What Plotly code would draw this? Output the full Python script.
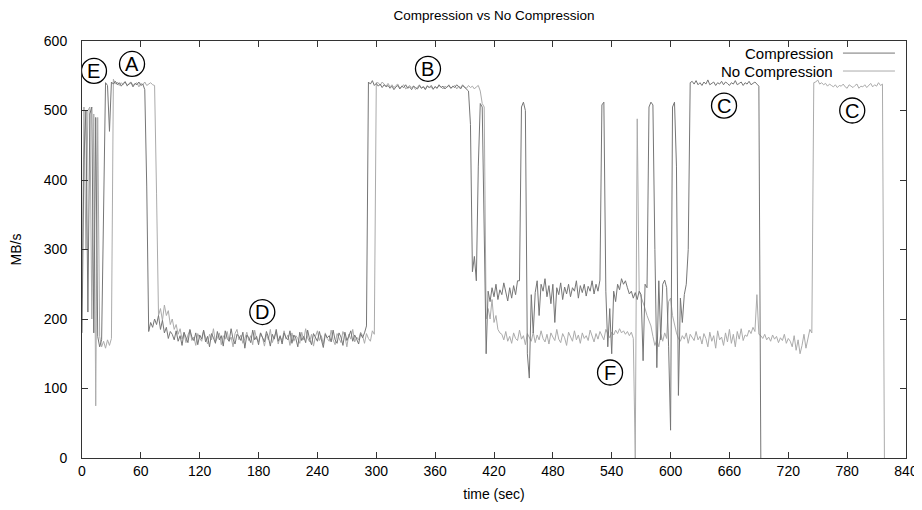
import plotly.graph_objects as go

# ---------------- data (MB/s, one sample every 2 s starting at t = 0) ----------------
SAMPLE_STEP = 2

# Compression
comp_a = [180, 430, 500, 210, 495, 505, 180, 490, 175, 160, 170, 350, 540, 536, 470]          # t 0-28
comp_b = [541, 538, 542, 537, 540, 535, 539, 541, 536, 538, 540, 534, 539, 537, 541, 536, 538]  # t 30-62
comp_c = [530, 390, 182, 195, 188, 200, 192, 205, 185, 198, 180, 188, 172, 182]                # t 64-90
comp_d = [178, 170, 183, 168, 176, 162, 181, 172, 166, 185,
          174, 169, 180, 163, 177, 171, 184, 167, 175, 160,
          179, 173, 165, 182, 170, 176, 161, 183, 172, 168,
          186, 171, 164, 178, 175, 169, 181, 158, 177, 173,
          166, 184, 170, 175, 163, 180, 172, 167, 182, 174,
          161, 178, 171, 185, 168, 176, 164, 180, 173, 170,
          183, 165, 177, 172, 160, 181, 169, 175, 166, 184,
          171, 163, 179, 174, 168, 182, 170, 159, 178, 173,
          176, 167, 184, 170, 165, 180, 174, 162, 181, 169,
          175, 183, 168, 177, 171, 164, 179, 173, 180]                                          # t 92-288
comp_e = [190]                                                                                  # t 290
comp_f = [541, 538, 543, 536, 539, 535, 538, 533, 537, 534,
          536, 532, 535, 530, 534, 536, 531, 535, 533, 537,
          532, 534, 530, 535, 533, 531, 536, 532, 534, 530,
          535, 533, 536, 531, 534, 532, 537, 533, 535, 531,
          534, 536, 532, 535, 533, 537, 534, 531, 536, 533,
          530]                                                                                  # t 292-392
comp_g = [528, 480, 268, 290, 255, 420, 510, 505, 300, 150]                                     # t 394-412
comp_h = [240, 225, 245, 232, 250, 228, 242, 235, 252, 238, 226, 245, 230, 248, 235, 255]      # t 414-444
comp_i = [255, 505, 512, 500, 150, 115, 235, 180]                                               # t 446-460
comp_j = [238, 255, 205, 250, 240, 258, 232, 248, 222, 250,
          195, 245, 235, 252, 228, 246, 236, 250, 232, 245,
          240, 255, 230, 248, 238, 250, 233, 247, 240, 255,
          236, 250, 240, 256]                                                                   # t 462-528
comp_k = [508, 512, 240, 160, 215, 150]                                                         # t 530-540
comp_l = [240, 225, 250, 242, 258, 250, 255, 245, 236, 240, 230, 238, 228, 240, 235]           # t 542-570
comp_m = [140, 250, 245, 505, 512, 508, 300, 130, 255, 170, 250, 256, 245, 160, 40,
          505, 512, 420, 90, 230, 195, 235, 250, 300]                                           # t 572-618
comp_n = [540, 542, 538, 543, 537, 540, 536, 541, 538, 544, 537,
          539, 541, 536, 540, 538, 542, 537, 541, 539, 536,
          540, 538, 543, 537, 539, 541, 536, 540, 538, 542,
          537, 539, 541, 538]                                                                   # t 620-688
comp_o = [535, 0]                                                                               # t 690-692

# No Compression
nocomp_a = [230, 505, 300, 500, 505, 200, 495, 75, 490, 175, 160, 168, 158, 170, 162, 172]     # t 0-30
nocomp_b = [545, 538, 541, 536, 540, 537, 542, 535, 539, 541, 536,
            538, 540, 534, 539, 537, 541, 536, 538, 540, 537]                                   # t 32-72
nocomp_c = [536, 380, 205, 215, 198, 220, 205, 212, 192, 200, 185, 192, 178, 186]              # t 74-100
nocomp_d = [171, 180, 166, 177, 184, 169, 174, 162, 179, 172,
            168, 183, 175, 164, 178, 170, 186, 167, 173, 180,
            163, 176, 171, 182, 168, 174, 160, 179, 185, 170,
            177, 165, 172, 181, 169, 176, 163, 184, 171, 167,
            180, 173, 161, 178, 170, 185, 166, 175, 182, 164,
            174, 169, 183, 171, 177, 162, 180, 168, 176, 172,
            165, 181, 170, 186, 173, 167, 178, 161, 175, 183,
            169, 176, 164, 180, 172, 168, 184, 170, 163, 179,
            173, 166, 182, 175, 160, 178, 171, 185, 167, 174,
            170, 181, 176, 165, 179, 172, 168, 183, 178]                                        # t 102-298
nocomp_e = [540, 540, 536, 541, 538, 535, 539, 534, 537, 533, 536,
            538, 532, 535, 537, 531, 534, 536, 533, 535, 530,
            534, 537, 532, 535, 531, 536, 533, 534, 530, 535,
            532, 536, 534, 531, 535, 533, 537, 532, 534, 536,
            531, 535, 533, 537, 534, 532, 536, 533, 535, 531,
            534, 536]                                                                           # t 300-404
nocomp_f = [528, 510, 505, 200, 215, 200, 228, 195, 205, 185, 180]                              # t 406-426
nocomp_g = [178, 170, 182, 168, 175, 165, 180, 172, 169, 184,
            171, 176, 163, 179, 173, 168, 181, 166, 177, 170,
            183, 172, 167, 178, 164, 180, 174, 169, 185, 171,
            166, 179, 173, 162, 181, 175, 168, 183, 170, 177,
            165, 180, 172, 176, 169, 184, 174, 167, 179, 171,
            182, 176, 170, 185, 178, 173, 181, 177, 184, 179,
            186, 180, 183, 178, 182, 176, 181]                                                  # t 428-560
nocomp_h = [172, 0, 488, 240, 232, 225, 215, 205, 198, 190, 175, 162, 170, 160, 178, 168,
            180, 172, 225, 230, 205, 190, 180, 172]                                             # t 562-608
nocomp_i = [168, 176, 171, 180, 165, 178, 173, 169, 182, 170,
            175, 164, 179, 172, 160, 181, 168, 176, 158, 183,
            170, 174, 162, 180, 167, 185, 165, 178, 160, 182,
            171, 186, 169, 177, 175, 184, 179, 188]                                             # t 610-684
nocomp_j = [182, 235, 178]                                                                      # t 686-690
nocomp_k = [176, 172, 178, 170, 174, 168, 177, 171, 175, 166,
            173, 169, 178, 165, 172, 168, 160, 176, 155, 170,
            150, 162, 178, 158, 172, 185]                                                       # t 692-742
nocomp_l = [180, 540]                                                                           # t 744-746
nocomp_m = [541, 544, 538, 540, 537, 539, 535, 538, 536, 534,
            537, 533, 536, 535, 538, 534, 532, 537, 535, 533,
            536, 538, 532, 535, 534, 537, 533, 536, 539, 534,
            537, 535, 540, 536, 538]                                                            # t 748-816
nocomp_n = [0]                                                                                  # t 818

x_ticks = [0, 60, 120, 180, 240, 300, 360, 420, 480, 540, 600, 660, 720, 780, 840]
y_ticks = [0, 100, 200, 300, 400, 500, 600]

# circled markers: letter, time (s), MB/s
marker_letters = ["E", "A", "B", "D", "F", "C", "C"]
marker_t = [12.2, 51.0, 352.7, 183.8, 538.3, 654.5, 785.2]
marker_v = [557, 567, 560, 210, 123, 507, 500]

# ---------------- build ----------------
comp = (comp_a + comp_b + comp_c + comp_d + comp_e + comp_f + comp_g + comp_h + comp_i +
        comp_j + comp_k + comp_l + comp_m + comp_n + comp_o)
nocomp = (nocomp_a + nocomp_b + nocomp_c + nocomp_d + nocomp_e + nocomp_f + nocomp_g +
          nocomp_h + nocomp_i + nocomp_j + nocomp_k + nocomp_l + nocomp_m + nocomp_n)
comp_t = [SAMPLE_STEP * i for i in range(len(comp))]
nocomp_t = [SAMPLE_STEP * i for i in range(len(nocomp))]

DARK = "#767676"
LIGHT = "#ababab"
FONT = "Liberation Sans, Arial, sans-serif"

fig = go.Figure()
fig.add_trace(go.Scatter(x=nocomp_t, y=nocomp, mode="lines", name="No Compression",
                         line=dict(color=LIGHT, width=1), showlegend=False))
fig.add_trace(go.Scatter(x=comp_t, y=comp, mode="lines", name="Compression",
                         line=dict(color=DARK, width=1), showlegend=False))

axis_common = dict(showline=True, linecolor="#333333", linewidth=1, mirror="ticks",
                   ticks="inside", ticklen=6, tickcolor="#333333", showgrid=False,
                   zeroline=False, automargin=False,
                   tickfont=dict(size=14, color="#000000", family=FONT))

fig.update_xaxes(range=[0, 840], tickvals=x_ticks, ticktext=[str(v) for v in x_ticks],
                 title=dict(text="time (sec)", font=dict(size=14, color="#000"), standoff=11),
                 **axis_common)
fig.update_yaxes(range=[0, 600], tickvals=y_ticks, ticktext=[str(v) for v in y_ticks],
                 ticklabelstandoff=11,
                 title=dict(text="MB/s", font=dict(size=14, color="#000"), standoff=18),
                 **axis_common)

shapes = []
annotations = []
for letter, t, v in zip(marker_letters, marker_t, marker_v):
    shapes.append(dict(type="circle", xref="x", yref="y", xsizemode="pixel", ysizemode="pixel",
                       xanchor=t, yanchor=v, x0=-12.5, x1=12.5, y0=-12.5, y1=12.5,
                       line=dict(color="#000000", width=1.3)))
    annotations.append(dict(x=t, y=v, xref="x", yref="y", text=letter, showarrow=False,
                            font=dict(size=20, color="#000000", family=FONT),
                            xanchor="center", yanchor="middle"))

# legend (gnuplot style: text then line sample)
legend_names = ["Compression", "No Compression"]
legend_colors = [DARK, LIGHT]
legend_y = [0.971, 0.928]
for name, col, ly in zip(legend_names, legend_colors, legend_y):
    annotations.append(dict(x=0.914, y=ly, xref="paper", yref="paper", text=name, showarrow=False,
                            xanchor="right", yanchor="middle",
                            font=dict(size=15, color="#000000", family=FONT)))
    shapes.append(dict(type="line", xref="paper", yref="paper", x0=0.9235, x1=0.9866,
                       y0=ly, y1=ly, line=dict(color=col, width=1)))

# the page body keeps the browser's default 8 px margin, so the figure is sized to fit
fig.update_layout(
    width=914, height=502,
    margin=dict(l=74, r=16, t=33, b=52),
    paper_bgcolor="white", plot_bgcolor="white",
    font=dict(family=FONT, color="#000000"),
    title=dict(text="Compression vs No Compression", x=0.5, xref="paper", xanchor="center",
               y=0.986, yref="container", yanchor="middle",
               font=dict(size=13.5, color="#000000", family=FONT)),
    shapes=shapes, annotations=annotations,
)

fig.write_html("out.html")
